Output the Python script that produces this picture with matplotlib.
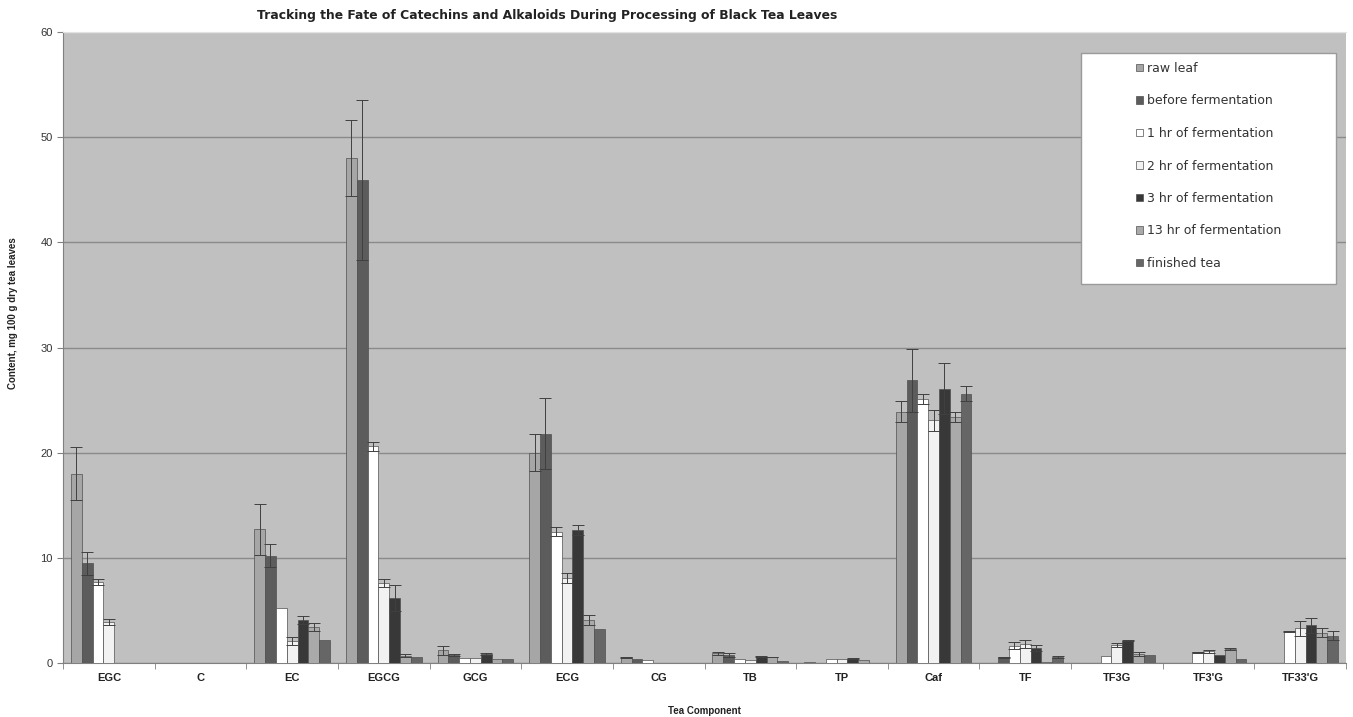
import numpy as np
import matplotlib
matplotlib.use('Agg')
import matplotlib.pyplot as plt
from matplotlib.patches import Rectangle

plt.rcParams['font.family'] = ['Liberation Sans', 'DejaVu Sans']

components = ['EGC', 'C', 'EC', 'EGCG', 'GCG', 'ECG', 'CG', 'TB', 'TP', 'Caf',
              'TF', 'TF3G', "TF3'G", "TF33'G"]

series_names = ['raw leaf', 'before fermentation', '1 hr of fermentation',
                '2 hr of fermentation', '3 hr of fermentation',
                '13 hr of fermentation', 'finished tea']

raw_leaf = [18.0, 0, 12.7, 48.0, 1.2, 20.0, 0.55, 0.92, 0.13, 23.9, 0, 0, 0, 0]
raw_leaf_err = [2.5, 0, 2.4, 3.6, 0.45, 1.75, 0.05, 0.15, 0, 1.0, 0, 0, 0, 0]
before_ferm = [9.5, 0, 10.2, 45.9, 0.73, 21.8, 0.4, 0.76, 0, 26.9, 0.55, 0, 0, 0]
before_ferm_err = [1.1, 0, 1.1, 7.6, 0.1, 3.4, 0, 0.15, 0, 3.0, 0.05, 0, 0, 0]
hr1 = [7.7, 0, 5.2, 20.6, 0.47, 12.5, 0.25, 0.41, 0.35, 25.1, 1.65, 0.63, 1.0, 3.0]
hr1_err = [0.25, 0, 0, 0.4, 0, 0.4, 0, 0, 0, 0.45, 0.3, 0, 0.05, 0.05]
hr2 = [3.9, 0, 2.1, 7.6, 0.47, 8.1, 0, 0.29, 0.35, 23.1, 1.8, 1.7, 1.1, 3.3]
hr2_err = [0.3, 0, 0.35, 0.35, 0, 0.45, 0, 0, 0, 1.0, 0.4, 0.2, 0.17, 0.7]
hr3 = [0, 0, 4.1, 6.2, 0.84, 12.65, 0, 0.6, 0.41, 26.1, 1.43, 2.1, 0.8, 3.6]
hr3_err = [0, 0, 0.4, 1.25, 0.1, 0.45, 0, 0.03, 0.05, 2.4, 0.3, 0.05, 0, 0.7]
hr13 = [0, 0, 3.45, 0.7, 0.4, 4.1, 0, 0.57, 0.32, 23.4, 0.1, 0.82, 1.33, 2.9]
hr13_err = [0, 0, 0.4, 0.15, 0, 0.45, 0, 0.03, 0, 0.5, 0, 0.2, 0.1, 0.4]
finished = [0, 0, 2.2, 0.55, 0.4, 3.2, 0, 0.16, 0, 25.6, 0.57, 0.8, 0.4, 2.6]
finished_err = [0, 0, 0, 0, 0, 0, 0, 0, 0, 0.7, 0.05, 0, 0, 0.4]

values = [raw_leaf, before_ferm, hr1, hr2, hr3, hr13, finished]
errors = [raw_leaf_err, before_ferm_err, hr1_err, hr2_err, hr3_err, hr13_err, finished_err]
colors = ['#a6a6a6', '#5c5c5c', '#ffffff', '#f2f2f2', '#383838', '#aaaaaa', '#666666']

fig = plt.figure(figsize=(13.53, 7.17), dpi=100)
ax = fig.add_axes([63 / 1353, 54 / 717, 1283 / 1353, 631 / 717])
ax.set_facecolor('#c0c0c0')

x = np.arange(len(components))
n = len(values)
width = 0.118
for i, (vals, errs, col, name) in enumerate(zip(values, errors, colors, series_names)):
    pos = x + (i - (n - 1) / 2) * width
    ax.bar(pos, vals, width, color=col, edgecolor='#505050', linewidth=0.5,
           label=name, zorder=3)
    v = np.array(vals)
    e = np.array(errs)
    m = e > 0
    ax.errorbar(pos[m], v[m], yerr=e[m], fmt='none', ecolor='#404040',
                elinewidth=0.7, capsize=4, capthick=0.7, zorder=4)

ax.set_xlim(-0.5, len(components) - 0.5)
ax.set_ylim(0, 60)
ax.set_yticks(range(0, 61, 10))
ax.yaxis.grid(True, color='#8a8a8a', linewidth=1.0, zorder=1)
ax.get_ygridlines()[-1].set_color('#e2e2e2')
ax.set_axisbelow(True)
ax.set_xticks(x)
ax.set_xticklabels(components, fontsize=8, fontweight='bold', color='#222222')
ax.set_xticks(np.arange(-0.5, len(components), 1), minor=True)
ax.tick_params(axis='x', which='major', length=0, pad=7)
ax.tick_params(axis='x', which='minor', length=4, color='#808080')
ax.tick_params(axis='y', length=4, color='#808080', labelsize=8, labelcolor='#333333')
ax.spines['right'].set_visible(False)
ax.spines['top'].set_color('#e2e2e2')
for side in ['left', 'bottom']:
    ax.spines[side].set_color('#808080')
    ax.spines[side].set_linewidth(0.8)

fig.text(547 / 1353, 1 - 16 / 717,
         'Tracking the Fate of Catechins and Alkaloids During Processing of Black Tea Leaves',
         ha='center', va='center', fontsize=8.9, fontweight='bold', color='#222222',
         family='DejaVu Sans')
fig.text(13 / 1353, 1 - 313 / 717, 'Content, mg 100 g dry tea leaves', rotation=90,
         ha='center', va='center', fontsize=7, fontweight='bold', color='#222222')
fig.text(704 / 1353, 1 - 711 / 717, 'Tea Component', ha='center', va='center',
         fontsize=7, fontweight='bold', color='#222222')

# legend box
fig.patches.append(Rectangle((1081 / 1353, 1 - 284 / 717), 255 / 1353, 231 / 717,
                             transform=fig.transFigure, facecolor='white',
                             edgecolor='#9a9a9a', linewidth=1.0, zorder=5))
leg = fig.legend(loc='upper left', bbox_to_anchor=(1136 / 1353, 1 - 62 / 717),
                 frameon=False, borderaxespad=0, borderpad=0,
                 prop={'family': 'DejaVu Sans', 'size': 9},
                 labelspacing=1.56, handlelength=0.56, handleheight=0.56,
                 handletextpad=0.35)
leg.set_zorder(6)
for t in leg.get_texts():
    t.set_color('#333333')

fig.savefig('out.png', dpi=100)
